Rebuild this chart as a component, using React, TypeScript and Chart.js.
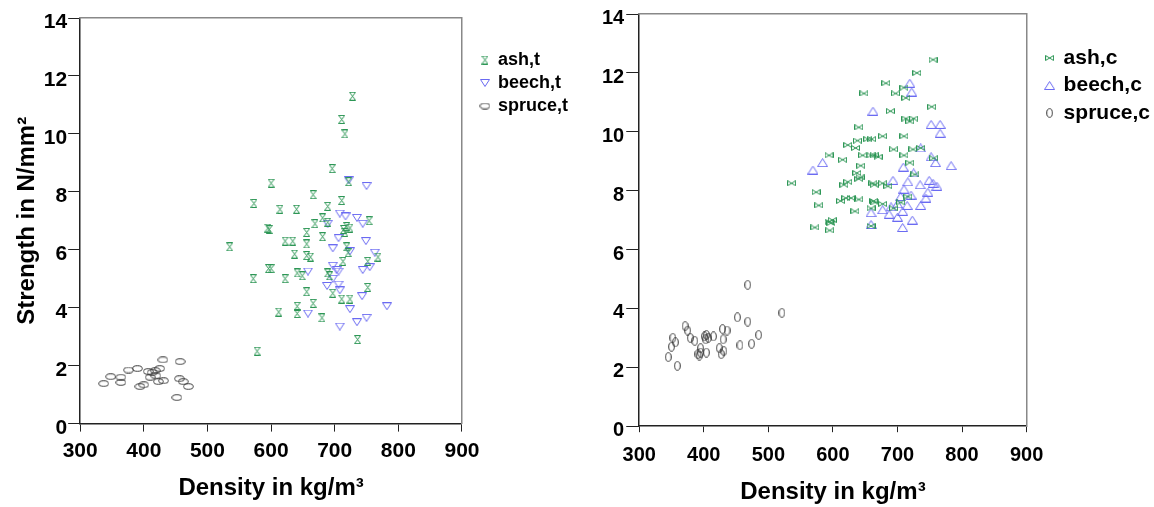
import React, { useEffect, useRef } from "react";
import { Chart, registerables } from "chart.js";
Chart.register(...registerables);

const FONT = "'Liberation Sans', Arial, sans-serif";

// ---------- Left chart: tension (t) ----------
const ashT_density = [728, 711, 716, 696, 600, 666, 573, 614, 640, 689, 711, 595, 597, 681, 669, 689, 535, 656, 622, 634, 681, 714, 754, 656, 637, 662, 596, 600, 572, 622, 641, 649, 656, 666, 641, 641, 612, 680, 578, 689, 719, 724, 716, 719, 713, 752, 768, 692, 697, 752, 711, 724, 736, 722, 656, 721];
const ashT_strength = [11.3, 10.5, 10.0, 8.8, 8.3, 7.9, 7.6, 7.4, 7.4, 7.5, 7.7, 6.75, 6.7, 7.1, 6.9, 6.95, 6.1, 6.6, 6.3, 6.3, 6.45, 6.7, 7.0, 6.2, 5.85, 5.75, 5.35, 5.35, 5.0, 5.0, 5.2, 5.1, 4.55, 4.15, 4.05, 3.8, 3.85, 3.65, 2.5, 5.2, 6.8, 6.75, 6.6, 6.1, 5.6, 5.6, 5.75, 5.1, 4.5, 4.7, 4.3, 4.3, 2.9, 8.35, 5.8, 5.9];

const beechT_density = [722, 750, 708, 717, 735, 744, 689, 706, 749, 697, 724, 763, 755, 744, 697, 703, 706, 658, 697, 688, 706, 708, 743, 724, 782, 708, 735, 750, 658];
const beechT_strength = [8.4, 8.2, 7.25, 7.15, 7.1, 6.9, 6.9, 6.4, 6.3, 6.05, 5.95, 5.9, 5.4, 5.3, 5.45, 5.3, 5.25, 5.25, 5.0, 4.75, 4.8, 4.6, 4.4, 3.95, 4.05, 3.35, 3.5, 3.65, 3.8];

const spruceT_density = [337, 348, 364, 364, 376, 390, 394, 400, 407, 410, 418, 425, 430, 419, 423, 431, 457, 456, 462, 470, 452, 413];
const spruceT_strength = [1.38, 1.62, 1.6, 1.42, 1.85, 1.9, 1.28, 1.34, 1.8, 1.6, 1.83, 1.9, 2.2, 1.65, 1.45, 1.48, 2.14, 1.55, 1.45, 1.28, 0.9, 1.76];

// ---------- Right chart: compression (c) ----------
const ashC_density = [755, 730, 682, 710, 697, 713, 648, 689, 753, 713, 725, 719, 640, 677, 710, 654, 660, 638, 623, 635, 694, 724, 736, 594, 615, 646, 659, 670, 710, 664, 756, 719, 643, 637, 640, 642, 623, 536, 662, 617, 727, 664, 677, 685, 574, 620, 612, 628, 640, 663, 716, 705, 665, 677, 694, 578, 634, 659, 599, 594, 597, 572, 595, 659];
const ashC_strength = [12.45, 12.0, 11.65, 11.5, 11.3, 11.15, 11.3, 10.7, 10.85, 10.45, 10.45, 10.35, 10.15, 9.85, 9.85, 9.75, 9.75, 9.7, 9.55, 9.45, 9.4, 9.4, 9.45, 9.2, 9.05, 9.2, 9.2, 9.15, 9.2, 9.2, 9.1, 8.95, 8.85, 8.6, 8.4, 8.45, 8.3, 8.25, 8.25, 8.2, 8.55, 8.2, 8.25, 8.15, 7.95, 7.75, 7.65, 7.75, 7.7, 7.65, 7.8, 7.6, 7.6, 7.55, 7.4, 7.5, 7.3, 7.4, 7.0, 6.95, 6.9, 6.75, 6.65, 6.8];

const beechC_density = [569, 584, 719, 722, 662, 752, 766, 766, 736, 752, 759, 783, 709, 725, 693, 716, 735, 749, 755, 761, 710, 705, 721, 747, 744, 736, 690, 700, 677, 708, 715, 687, 700, 723, 708, 659, 659];
const beechC_strength = [8.7, 8.95, 11.65, 11.35, 10.7, 10.25, 10.25, 9.95, 9.45, 9.15, 8.95, 8.85, 8.8, 8.6, 8.35, 8.3, 8.2, 8.35, 8.25, 8.15, 8.05, 7.8, 7.85, 7.95, 7.75, 7.5, 7.45, 7.55, 7.35, 7.3, 7.5, 7.2, 7.1, 7.0, 6.75, 7.25, 6.85];

const spruceC_density = [345, 350, 352, 356, 359, 371, 375, 379, 386, 391, 393, 395, 395, 401, 403, 404, 404, 407, 415, 424, 427, 429, 430, 431, 436, 452, 456, 468, 468, 474, 485, 521];
const spruceC_strength = [2.35, 2.7, 3.0, 2.85, 2.05, 3.4, 3.25, 3.0, 2.9, 2.45, 2.4, 2.65, 2.5, 3.05, 2.95, 3.1, 2.5, 3.0, 3.05, 2.65, 2.45, 3.3, 2.95, 2.55, 3.25, 3.7, 2.75, 3.55, 4.8, 2.8, 3.1, 3.85];

const xTicks = [300, 400, 500, 600, 700, 800, 900];
const yTicks = [0, 2, 4, 6, 8, 10, 12, 14];

const GREEN = "#2c9655";
const BLUE = "#6a6af2";
const DARK = "#3a3a3a";

function pts(xs: number[], ys: number[]) {
  return xs.map((x, i) => ({ x, y: ys[i] }));
}

function marker(kind: string, color: string): HTMLCanvasElement {
  const c = document.createElement("canvas");
  let w = 8, h = 8;
  if (kind === "hourglass") { w = 7; h = 9; }
  if (kind === "bowtie") { w = 9; h = 6; }
  if (kind === "tridown") { w = 10; h = 8; }
  if (kind === "triup") { w = 11; h = 9; }
  if (kind === "ellh") { w = 11; h = 7; }
  if (kind === "ellv") { w = 7; h = 10; }
  c.width = w; c.height = h;
  const g = c.getContext("2d")!;
  g.strokeStyle = color;
  g.lineWidth = 1;
  g.beginPath();
  if (kind === "hourglass") {
    g.moveTo(0.5, 0.5); g.lineTo(w - 0.5, 0.5); g.lineTo(0.5, h - 0.5); g.lineTo(w - 0.5, h - 0.5); g.closePath();
  } else if (kind === "bowtie") {
    g.moveTo(0.5, 0.5); g.lineTo(0.5, h - 0.5); g.lineTo(w - 0.5, 0.5); g.lineTo(w - 0.5, h - 0.5); g.closePath();
  } else if (kind === "tridown") {
    g.moveTo(0.5, 0.5); g.lineTo(w - 0.5, 0.5); g.lineTo(w / 2, h - 0.5); g.closePath();
  } else if (kind === "triup") {
    g.moveTo(w / 2, 0.5); g.lineTo(w - 0.5, h - 0.5); g.lineTo(0.5, h - 0.5); g.closePath();
  } else if (kind === "ellh") {
    g.ellipse(w / 2, h / 2, w / 2 - 0.7, h / 2 - 0.7, 0, 0, Math.PI * 2);
  } else {
    g.ellipse(w / 2, h / 2, w / 2 - 0.7, h / 2 - 0.7, 0, 0, Math.PI * 2);
  }
  g.stroke();
  return c;
}

type Side = {
  labels: string[];
  series: { x: number[]; y: number[]; kind: string; color: string }[];
  yTitle: string | null;
  tickFont: number;
  xTickLen: number;
  xTickPad: number;
  yTickLen: number;
  yTickPad: number;
  xTitlePad: { top: number; bottom: number };
  yTitlePad: { top: number; bottom: number };
  padding: { left: number; top: number; right: number; bottom: number };
  legendFont: number;
  legendBox: number;
  legendPad: number;
  legendTitlePad: number;
  rightGap: number;
};

function makeConfig(s: Side): any {
  const datasets = s.series.map((ser, i) => {
    const img = marker(ser.kind, ser.color);
    return {
      label: s.labels[i],
      data: pts(ser.x, ser.y),
      pointStyle: img,
      pointRadius: 4,
      borderColor: ser.color,
      backgroundColor: "transparent",
      xAxisID: "x",
      yAxisID: "y",
    };
  });
  const tickFont = { family: FONT, size: s.tickFont, weight: "bold" as const };
  const titleFont = { family: FONT, size: 24, weight: "bold" as const };
  return {
    type: "scatter",
    data: { datasets },
    options: {
      responsive: false,
      animation: false,
      devicePixelRatio: 1,
      layout: { padding: s.padding },
      plugins: {
        tooltip: { enabled: false },
        legend: {
          position: "right",
          align: "start",
          maxWidth: 400,
          title: { display: true, text: " ", font: { family: FONT, size: 10 }, padding: { top: s.legendTitlePad, bottom: 0 } },
          labels: {
            usePointStyle: true,
            boxWidth: s.legendBox,
            padding: s.legendPad,
            color: "#000",
            font: { family: FONT, size: s.legendFont, weight: "bold" },
          },
        },
      },
      scales: {
        x: {
          type: "linear",
          position: "bottom",
          min: 300,
          max: 900,
          afterBuildTicks: (sc: any) => { sc.ticks = xTicks.map((v) => ({ value: v })); },
          ticks: { font: tickFont, color: "#000", padding: s.xTickPad, maxRotation: 0 },
          grid: { display: true, drawOnChartArea: false, drawTicks: true, tickLength: s.xTickLen, color: "#222", lineWidth: 1 },
          border: { display: true, color: "#222", width: 1.5 },
          title: { display: true, text: "Density in kg/m³", font: titleFont, color: "#000", padding: s.xTitlePad },
        },
        y: {
          type: "linear",
          position: "left",
          min: 0,
          max: 14,
          afterBuildTicks: (sc: any) => { sc.ticks = yTicks.map((v) => ({ value: v })); },
          ticks: { font: tickFont, color: "#000", padding: s.yTickPad, labelOffset: 4.5 },
          grid: { display: true, drawOnChartArea: false, drawTicks: true, tickLength: s.yTickLen, color: "#222", lineWidth: 1 },
          border: { display: true, color: "#222", width: 1.5 },
          title: s.yTitle
            ? { display: true, text: s.yTitle, font: titleFont, color: "#000", padding: s.yTitlePad }
            : { display: false },
        },
        xt: {
          type: "linear",
          position: "top",
          min: 0,
          max: 1,
          ticks: { display: false },
          grid: { display: false, drawTicks: false },
          border: { display: true, color: "#888", width: 1.5 },
          afterFit: (sc: any) => { sc.height = 0; },
        },
        yr: {
          type: "linear",
          position: "right",
          min: 0,
          max: 1,
          ticks: { display: false },
          grid: { display: false, drawTicks: false },
          border: { display: true, color: "#888", width: 1.5 },
          afterFit: (sc: any) => { sc.width = s.rightGap; },
        },
      },
    },
  };
}

const leftSide: Side = {
  labels: ["ash,t", "beech,t", "spruce,t"],
  series: [
    { x: ashT_density, y: ashT_strength, kind: "hourglass", color: GREEN },
    { x: beechT_density, y: beechT_strength, kind: "tridown", color: BLUE },
    { x: spruceT_density, y: spruceT_strength, kind: "ellh", color: DARK },
  ],
  yTitle: "Strength in N/mm²",
  tickFont: 21,
  xTickLen: 8,
  xTickPad: 7.4,
  yTickLen: 12,
  yTickPad: 1,
  xTitlePad: { top: 2, bottom: 0 },
  yTitlePad: { top: 4, bottom: 1 },
  padding: { left: 9, top: 18, right: 0, bottom: 4.6 },
  legendFont: 18,
  legendBox: 8,
  legendPad: 5,
  legendTitlePad: 16,
  rightGap: 14,
};

const rightSide: Side = {
  labels: ["ash,c", "beech,c", "spruce,c"],
  series: [
    { x: ashC_density, y: ashC_strength, kind: "bowtie", color: GREEN },
    { x: beechC_density, y: beechC_strength, kind: "triup", color: BLUE },
    { x: spruceC_density, y: spruceC_strength, kind: "ellv", color: DARK },
  ],
  yTitle: null,
  tickFont: 20,
  xTickLen: 6,
  xTickPad: 11,
  yTickLen: 13,
  yTickPad: 2,
  xTitlePad: { top: 0, bottom: 0 },
  yTitlePad: { top: 0, bottom: 0 },
  padding: { left: 20, top: 14, right: 0, bottom: 0 },
  legendFont: 21,
  legendBox: 7,
  legendPad: 6.5,
  legendTitlePad: 15,
  rightGap: 13,
};

function ChartCanvas({ side, left, width }: { side: Side; left: number; width: number }) {
  const ref = useRef<HTMLCanvasElement | null>(null);
  useEffect(() => {
    if (!ref.current) return;
    const chart = new Chart(ref.current, makeConfig(side));
    return () => chart.destroy();
  }, [side]);
  return (
    <canvas
      ref={ref}
      width={width}
      height={507}
      style={{ position: "absolute", left, top: 0, width, height: 507 }}
    />
  );
}

export default function App() {
  return (
    <div
      style={{
        position: "fixed",
        left: 0,
        top: 0,
        width: 1154,
        height: 507,
        overflow: "hidden",
        background: "#fff",
      }}
    >
      <ChartCanvas side={leftSide} left={0} width={578} />
      <ChartCanvas side={rightSide} left={580} width={580} />
    </div>
  );
}
